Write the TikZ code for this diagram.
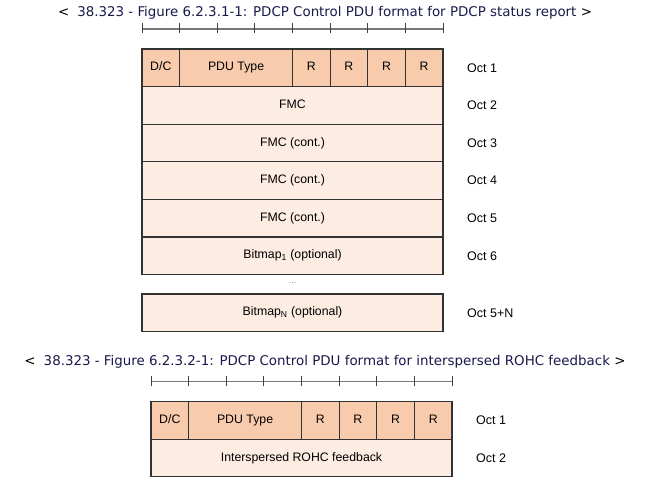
\documentclass[tikz,border=0pt]{standalone}
\usepackage{fontspec}
\setmainfont{Liberation Sans}
\newfontfamily\titlefont{DejaVu Sans}
\usetikzlibrary{positioning}
\definecolor{hdrfill}{RGB}{248,203,173}
\definecolor{rowfill}{RGB}{252,236,225}
\definecolor{titleblue}{RGB}{25,25,75}
\definecolor{rulegray}{RGB}{120,120,120}
\begin{document}
\begin{tikzpicture}[x=1pt,y=-1pt]
\tikzset{cell/.style={draw=black!80,line width=1.1pt,fill=hdrfill,minimum width=37.625pt,minimum height=37.6pt,inner sep=0pt,outer sep=0pt,text height=8.8pt,text depth=2.6pt,font=\fontsize{12.3}{13}\selectfont}}
\tikzset{row/.style={cell,fill=rowfill,minimum width=301pt}}
\tikzset{oct/.style={inner sep=0pt,font=\fontsize{12.5}{13}\selectfont}}
\tikzset{caption/.style={font=\titlefont\fontsize{13.4}{15}\selectfont,text=titleblue}}
\useasboundingbox (0,0) rectangle (659,484);

% Figure 6.2.3.1-1
\node[caption] (title1) at (325,13) {{\color{black}<}\hspace{0.6em}38.323 - Figure 6.2.3.1-1: PDCP Control PDU format for PDCP status report {\color{black}>}};
\draw[rulegray,line width=1.6pt] (142,29) -- (443,29);
\foreach \i in {0,...,8}
  \draw[black!75,line width=0.9pt] (142+37.625*\i,23.5) -- (142+37.625*\i,33.5);
\node[cell,anchor=north west] (dc1) at (142,49) {D/C};
\node[cell,minimum width=112.875pt,right=0pt of dc1] (type1) {PDU Type};
\node[cell,right=0pt of type1] (ra1) {R};
\node[cell,right=0pt of ra1] (rb1) {R};
\node[cell,right=0pt of rb1] (rc1) {R};
\node[cell,right=0pt of rc1] (rd1) {R};
\node[row,anchor=north west] (fmc) at (dc1.south west) {FMC};
\node[row,below=0pt of fmc] (fmcb) {FMC (cont.)};
\node[row,below=0pt of fmcb] (fmcc) {FMC (cont.)};
\node[row,below=0pt of fmcc] (fmcd) {FMC (cont.)};
\node[row,below=0pt of fmcd] (bmp1) {Bitmap\textsubscript{1} (optional)};
\node[inner sep=0pt,minimum height=19pt,text=black!50,font=\fontsize{9}{10}\selectfont,below=0pt of bmp1] (gap) {\raisebox{2pt}{...}};
\node[row,below=0pt of gap] (bmpn) {Bitmap\textsubscript{N} (optional)};
\node[oct,right=24pt of rd1] (oct1) {Oct 1};
\node[oct,right=24pt of fmc] (oct2) {Oct 2};
\node[oct,right=24pt of fmcb] (oct3) {Oct 3};
\node[oct,right=24pt of fmcc] (oct4) {Oct 4};
\node[oct,right=24pt of fmcd] (oct5) {Oct 5};
\node[oct,right=24pt of bmp1] (oct6) {Oct 6};
\node[oct,right=24pt of bmpn] (octn) {Oct 5+N};

% Figure 6.2.3.2-1
\node[caption] (title2) at (325,361.5) {{\color{black}<}\hspace{0.6em}38.323 - Figure 6.2.3.2-1: PDCP Control PDU format for interspersed ROHC feedback {\color{black}>}};
\draw[rulegray,line width=1.6pt] (151,381.5) -- (452,381.5);
\foreach \i in {0,...,8}
  \draw[black!75,line width=0.9pt] (151+37.625*\i,376) -- (151+37.625*\i,386);
\node[cell,anchor=north west] (dc2) at (151,401.5) {D/C};
\node[cell,minimum width=112.875pt,right=0pt of dc2] (type2) {PDU Type};
\node[cell,right=0pt of type2] (ra2) {R};
\node[cell,right=0pt of ra2] (rb2) {R};
\node[cell,right=0pt of rb2] (rc2) {R};
\node[cell,right=0pt of rc2] (rd2) {R};
\node[row,anchor=north west] (rohc) at (dc2.south west) {Interspersed ROHC feedback};
\node[oct,right=24pt of rd2] (octa) {Oct 1};
\node[oct,right=24pt of rohc] (octb) {Oct 2};
\end{tikzpicture}
\end{document}
